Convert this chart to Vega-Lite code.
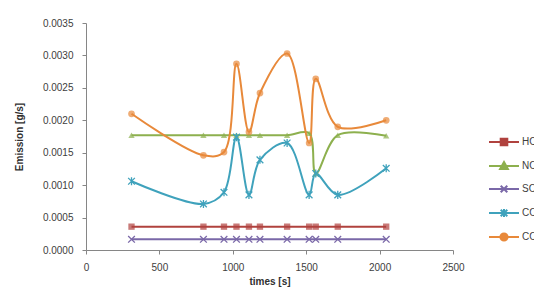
{
  "$schema": "https://vega.github.io/schema/vega-lite/v6.json",
  "autosize": {"type": "none"},
  "width": 367,
  "height": 227,
  "padding": {"left": 86, "top": 23, "right": 81, "bottom": 46},
  "background": "white",
  "config": {
    "font": "Liberation Sans",
    "view": {"stroke": null},
    "axis": {"labelFont": "Liberation Sans", "titleFont": "Liberation Sans", "labelColor": "#404040", "titleColor": "#303030", "domainColor": "#868686", "tickColor": "#868686", "grid": false}
  },
  "data": {"values": [
    {"time": 310, "series": "HC", "value": 0.00036},
    {"time": 800, "series": "HC", "value": 0.00036},
    {"time": 940, "series": "HC", "value": 0.00036},
    {"time": 1025, "series": "HC", "value": 0.00036},
    {"time": 1110, "series": "HC", "value": 0.00036},
    {"time": 1185, "series": "HC", "value": 0.00036},
    {"time": 1370, "series": "HC", "value": 0.00036},
    {"time": 1520, "series": "HC", "value": 0.00036},
    {"time": 1565, "series": "HC", "value": 0.00036},
    {"time": 1715, "series": "HC", "value": 0.00036},
    {"time": 2045, "series": "HC", "value": 0.00036},
    {"time": 310, "series": "NOx", "value": 0.00177},
    {"time": 800, "series": "NOx", "value": 0.00177},
    {"time": 940, "series": "NOx", "value": 0.00177},
    {"time": 1025, "series": "NOx", "value": 0.00177},
    {"time": 1110, "series": "NOx", "value": 0.00177},
    {"time": 1185, "series": "NOx", "value": 0.00177},
    {"time": 1370, "series": "NOx", "value": 0.00177},
    {"time": 1520, "series": "NOx", "value": 0.0018},
    {"time": 1565, "series": "NOx", "value": 0.00118},
    {"time": 1715, "series": "NOx", "value": 0.00177},
    {"time": 2045, "series": "NOx", "value": 0.00176},
    {"time": 310, "series": "SO2", "value": 0.000165},
    {"time": 800, "series": "SO2", "value": 0.000165},
    {"time": 940, "series": "SO2", "value": 0.000165},
    {"time": 1025, "series": "SO2", "value": 0.000165},
    {"time": 1110, "series": "SO2", "value": 0.000165},
    {"time": 1185, "series": "SO2", "value": 0.000165},
    {"time": 1370, "series": "SO2", "value": 0.000165},
    {"time": 1520, "series": "SO2", "value": 0.000165},
    {"time": 1565, "series": "SO2", "value": 0.000165},
    {"time": 1715, "series": "SO2", "value": 0.000165},
    {"time": 2045, "series": "SO2", "value": 0.000165},
    {"time": 310, "series": "CO", "value": 0.00106},
    {"time": 800, "series": "CO", "value": 0.00071},
    {"time": 940, "series": "CO", "value": 0.00089},
    {"time": 1025, "series": "CO", "value": 0.00174},
    {"time": 1110, "series": "CO", "value": 0.00085},
    {"time": 1185, "series": "CO", "value": 0.00139},
    {"time": 1370, "series": "CO", "value": 0.00165},
    {"time": 1520, "series": "CO", "value": 0.00085},
    {"time": 1565, "series": "CO", "value": 0.00118},
    {"time": 1715, "series": "CO", "value": 0.00085},
    {"time": 2045, "series": "CO", "value": 0.00126},
    {"time": 310, "series": "CO2", "value": 0.0021},
    {"time": 800, "series": "CO2", "value": 0.00146},
    {"time": 940, "series": "CO2", "value": 0.00151},
    {"time": 1025, "series": "CO2", "value": 0.00287},
    {"time": 1110, "series": "CO2", "value": 0.00182},
    {"time": 1185, "series": "CO2", "value": 0.00242},
    {"time": 1370, "series": "CO2", "value": 0.00303},
    {"time": 1520, "series": "CO2", "value": 0.00165},
    {"time": 1565, "series": "CO2", "value": 0.00264},
    {"time": 1715, "series": "CO2", "value": 0.0019},
    {"time": 2045, "series": "CO2", "value": 0.002}
  ]},
  "encoding": {
    "x": {"field": "time", "type": "quantitative", "scale": {"domain": [0, 2500], "nice": false},
      "axis": {"title": "times [s]", "values": [0, 500, 1000, 1500, 2000, 2500], "format": "d", "labelFontSize": 10, "titleFontSize": 10, "titleFontWeight": "bold", "tickSize": 4, "labelPadding": 8, "titlePadding": 4, "labelFlush": false}},
    "y": {"field": "value", "type": "quantitative", "scale": {"domain": [0, 0.0035], "nice": false},
      "axis": {"title": "Emission [g/s]", "values": [0, 0.0005, 0.001, 0.0015, 0.002, 0.0025, 0.003, 0.0035], "format": ".4f", "labelFontSize": 10, "titleFontSize": 10, "titleFontWeight": "bold", "tickSize": 4, "labelPadding": 9, "titlePadding": 18}},
    "color": {"field": "series", "type": "nominal",
      "scale": {"domain": ["HC", "NOx", "SO2", "CO", "CO2"], "range": ["#b0423e", "#8db04e", "#7a68a8", "#3fa2bc", "#e8893a"]},
      "legend": null}
  },
  "layer": [
    {
      "mark": {"type": "line", "interpolate": "catmull-rom", "strokeWidth": 2},
      "encoding": {
        "color": {"field": "series", "type": "nominal",
          "legend": {"title": null, "orient": "none", "legendX": 402, "legendY": 103, "labelFontSize": 10, "labelColor": "#404040", "rowPadding": -7, "labelOffset": 2, "symbolSize": 900, "symbolStrokeWidth": 2,
            "encode": {"symbols": {"update": {
              "shape": {"signal": "datum.value === 'HC' ? 'M-1,0L1,0M-0.22,-0.22L0.22,-0.22L0.22,0.22L-0.22,0.22Z' : datum.value === 'NOx' ? 'M-1,0L1,0M0,-0.26L0.26,0.2L-0.26,0.2Z' : datum.value === 'SO2' ? 'M-1,0L1,0M-0.22,-0.22L0.22,0.22M-0.22,0.22L0.22,-0.22' : datum.value === 'CO' ? 'M-1,0L1,0M-0.22,-0.22L0.22,0.22M-0.22,0.22L0.22,-0.22M0,-0.26L0,0.26' : 'M-1,0L1,0M0.24,0A0.24,0.24 0 1,1 -0.24,0A0.24,0.24 0 1,1 0.24,0Z'"},
              "fill": {"scale": "color", "field": "value"},
              "stroke": {"scale": "color", "field": "value"},
              "strokeWidth": {"value": 2}
            }}}}
        }
      }
    },
    {
      "transform": [{"filter": {"field": "series", "equal": "HC"}}],
      "mark": {"type": "point", "shape": "square", "filled": true, "size": 40, "strokeWidth": 1.3}
    },
    {
      "transform": [{"filter": {"field": "series", "equal": "NOx"}}],
      "mark": {"type": "point", "shape": "triangle-up", "filled": true, "size": 40, "strokeWidth": 1.3}
    },
    {
      "transform": [{"filter": {"field": "series", "equal": "SO2"}}],
      "mark": {"type": "point", "shape": "M-1,-1L1,1M-1,1L1,-1", "filled": false, "size": 45, "strokeWidth": 1.3, "opacity": 1}
    },
    {
      "transform": [{"filter": {"field": "series", "equal": "CO"}}],
      "mark": {"type": "point", "shape": "M-1,-1L1,1M-1,1L1,-1M0,-1.2L0,1.2", "filled": false, "size": 45, "strokeWidth": 1.3, "opacity": 1}
    },
    {
      "transform": [{"filter": {"field": "series", "equal": "CO2"}}],
      "mark": {"type": "point", "shape": "circle", "filled": true, "size": 45, "strokeWidth": 1.3}
    }
  ]
}
